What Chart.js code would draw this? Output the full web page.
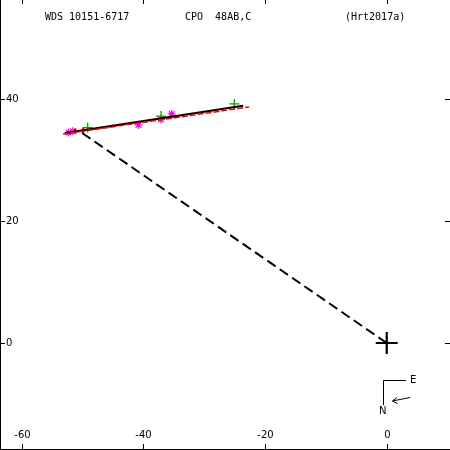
<!DOCTYPE html>
<html>
<head>
<meta charset="utf-8">
<style>
html,body{margin:0;padding:0;background:#fff;}
#wrap{width:450px;height:450px;}
</style>
<script src="https://cdn.jsdelivr.net/npm/chart.js@4/dist/chart.umd.min.js"></script>
</head>
<body>
<div id="wrap"><canvas id="c" width="450" height="450"></canvas></div>
<script>
// ---- data ----
const titleLeft = "WDS 10151-6717";
const titleMid = "CPO  48AB,C";
const titleRight = "(Hrt2017a)";
const xTickValues = [-60, -40, -20, 0];
const xTickLabels = ["-60", "-40", "-20", "0"];
const yTickValues = [40, 20, 0];
const yTickLabels = ["40", "20", "0"];
const orbitLine = [{x: -52.9, y: 34.4}, {x: -23.6, y: 38.9}];
const oldOrbitLine = [{x: -53.2, y: 34.25}, {x: -22.6, y: 38.7}];
const nodeLine = [{x: 0, y: 0}, {x: -50.75, y: 34.9}];
const primary = [{x: 0, y: 0}];
const visualObs = [{x: -49.15, y: 35.3}, {x: -37.1, y: 37.2}, {x: -25.05, y: 39.2}];
const speckleObs = [{x: -52.3, y: 34.5}, {x: -51.6, y: 34.7}, {x: -40.8, y: 35.75}, {x: -37.1, y: 36.65}, {x: -35.35, y: 37.55}];
const residuals = [{x: -49.9, y: 34.3}, {x: -49.9, y: 35.3}];
const residuals2 = [{x: -51.2, y: 34.3}, {x: -51.2, y: 35.2}];

const X_MIN = -63.57, X_MAX = 10.40, Y_MIN = -17.54, Y_MAX = 56.23;

const axisPlugin = {
  id: 'axisPlugin',
  afterDraw(chart) {
    const ctx = chart.ctx;
    const xs = chart.scales.x, ys = chart.scales.y;
    ctx.save();
    ctx.strokeStyle = '#000';
    ctx.fillStyle = '#000';
    ctx.lineWidth = 1;
    // frame (left + bottom)
    ctx.beginPath();
    ctx.moveTo(0.5, 0); ctx.lineTo(0.5, 449.5); ctx.lineTo(450, 449.5);
    ctx.stroke();
    // x ticks top & bottom
    ctx.font = '10px "DejaVu Sans", sans-serif';
    ctx.textAlign = 'center';
    ctx.textBaseline = 'middle';
    xTickValues.forEach((v, i) => {
      const px = Math.round(xs.getPixelForValue(v)) + 0.5;
      ctx.beginPath();
      ctx.moveTo(px, 0); ctx.lineTo(px, 4);
      ctx.moveTo(px, 449); ctx.lineTo(px, 444);
      ctx.stroke();
      ctx.fillText(xTickLabels[i], px, 435);
    });
    // y ticks left & right
    ctx.textAlign = 'left';
    yTickValues.forEach((v, i) => {
      const py = Math.round(ys.getPixelForValue(v)) + 0.5;
      ctx.beginPath();
      ctx.moveTo(0, py); ctx.lineTo(5, py);
      ctx.moveTo(450, py); ctx.lineTo(445, py);
      ctx.stroke();
      ctx.fillText(yTickLabels[i], 6, py);
    });
    // titles
    ctx.font = '10px "DejaVu Sans Mono", monospace';
    ctx.textAlign = 'left';
    ctx.textBaseline = 'middle';
    ctx.fillText(titleLeft, 45, 17);
    ctx.fillText(titleMid, 185, 17);
    ctx.fillText(titleRight, 345, 17);
    // compass
    ctx.beginPath();
    ctx.moveTo(383.5, 405); ctx.lineTo(383.5, 380.5); ctx.lineTo(406, 380.5);
    ctx.stroke();
    ctx.font = '10px "DejaVu Sans", sans-serif';
    ctx.textAlign = 'left';
    ctx.fillText('E', 410, 380);
    ctx.fillText('N', 379, 411);
    ctx.beginPath();
    ctx.moveTo(410, 397.5); ctx.lineTo(392.5, 401);
    ctx.moveTo(392.5, 401); ctx.lineTo(397, 397.5);
    ctx.moveTo(392.5, 401); ctx.lineTo(397.5, 403.5);
    ctx.stroke();
    ctx.restore();
  }
};

new Chart(document.getElementById('c'), {
  type: 'scatter',
  data: {
    datasets: [
      {data: oldOrbitLine, showLine: true, borderColor: '#ff0000', borderWidth: 1.5, pointRadius: 0, borderDash: [6, 2]},
      {data: orbitLine, showLine: true, borderColor: '#000', borderWidth: 2.2, pointRadius: 0},
      {data: nodeLine, showLine: true, borderColor: '#000', borderWidth: 2, borderDash: [10, 5], pointRadius: 0},
      {data: residuals, showLine: true, borderColor: '#ff0000', borderWidth: 2, pointRadius: 0},
      {data: residuals2, showLine: true, borderColor: '#ff0000', borderWidth: 2, pointRadius: 0},
      {data: primary, pointStyle: 'cross', pointRadius: 11, borderColor: '#000', borderWidth: 2.2, backgroundColor: '#000'},
      {data: visualObs, pointStyle: 'cross', pointRadius: 5, borderColor: '#00a000', borderWidth: 1.3},
      {data: speckleObs, pointStyle: 'star', pointRadius: 4, borderColor: '#ff00ff', borderWidth: 1.3}
    ]
  },
  options: {
    responsive: false,
    animation: false,
    layout: {padding: 0, autoPadding: false},
    plugins: {legend: {display: false}, tooltip: {enabled: false}, title: {display: false}},
    scales: {
      x: {type: 'linear', min: X_MIN, max: X_MAX, display: false},
      y: {type: 'linear', min: Y_MIN, max: Y_MAX, display: false}
    }
  },
  plugins: [axisPlugin]
});
</script>
</body>
</html>
